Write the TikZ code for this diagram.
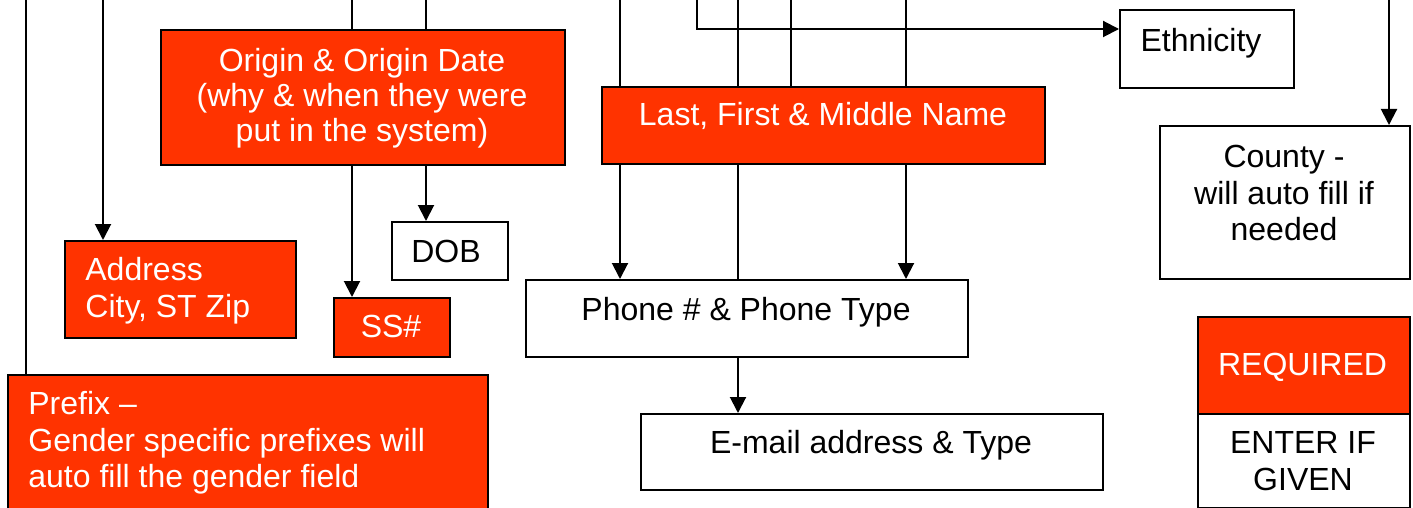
\documentclass[tikz,border=0pt]{standalone}
\usepackage{fontspec}
\setmainfont{Liberation Sans}
\usetikzlibrary{arrows.meta}
\definecolor{req}{RGB}{255,51,0}
\begin{document}
\begin{tikzpicture}[x=0.5pt,y=-0.5pt,
  box/.style={draw=black, line width=1pt, inner sep=0pt, anchor=north west},
  redbox/.style={box, fill=req},
  whitebox/.style={box, fill=white},
  txt/.style={inner sep=0pt, font=\fontsize{16}{18.3}\selectfont, align=center},
  wtxt/.style={txt, text=white},
  one/.style={text height=11.5pt, text depth=0pt},
  conn/.style={line width=1pt},
  arr/.style={conn, -{Triangle[width=8pt,length=8pt]}},
]
\useasboundingbox (0,0) rectangle (1413,508);

% free ends at the top edge
\coordinate (t26) at (26,-2);
\coordinate (t103) at (103,-2);
\coordinate (t352) at (352,-2);
\coordinate (t426) at (426,-2);
\coordinate (t620) at (620,-2);
\coordinate (t697) at (697,-2);
\coordinate (t738) at (738,-2);
\coordinate (t791) at (791,-2);
\coordinate (t906) at (906,-2);
\coordinate (t1389) at (1389,-2);

% boxes
\node[redbox, minimum width=202pt, minimum height=67.5pt] (origin) at (160,29) {};
\node[redbox, minimum width=221.5pt, minimum height=38.5pt] (last) at (601,86) {};
\node[whitebox, minimum width=87pt, minimum height=39pt] (eth) at (1119,9) {};
\node[whitebox, minimum width=125pt, minimum height=76.5pt] (county) at (1159,125) {};
\node[redbox, minimum width=115.5pt, minimum height=48.5pt] (address) at (64,240) {};
\node[whitebox, minimum width=58pt, minimum height=29pt] (dob) at (391,221) {};
\node[redbox, minimum width=58pt, minimum height=29.5pt] (ss) at (333,297) {};
\node[whitebox, minimum width=221pt, minimum height=38.5pt] (phone) at (525,279) {};
\node[whitebox, minimum width=231pt, minimum height=38pt] (email) at (640,413) {};
\node[redbox, minimum width=240pt, minimum height=70pt] (prefix) at (7,374) {};
\node[redbox, minimum width=106pt, minimum height=48.5pt] (req) at (1197,316) {};
\node[whitebox, minimum width=106pt, minimum height=47pt] (given) at (1197,413) {};

% connectors
\draw[conn] (t26) -- (t26 |- prefix.north);
\draw[arr] (t103) -- (t103 |- address.north);
\draw[conn] (t352) -- (t352 |- origin.north);
\draw[conn] (t426) -- (t426 |- origin.north);
\draw[arr] (t352 |- origin.south) -- (t352 |- ss.north);
\draw[arr] (t426 |- origin.south) -- (t426 |- dob.north);
\draw[conn] (t620) -- (t620 |- last.north);
\draw[conn] (t738) -- (t738 |- last.north);
\draw[conn] (t791) -- (t791 |- last.north);
\draw[conn] (t906) -- (t906 |- last.north);
\draw[arr] (t697) |- ([yshift=-10pt]eth.north west);
\draw[arr] (t620 |- last.south) -- (t620 |- phone.north);
\draw[conn] (t738 |- last.south) -- (t738 |- phone.north);
\draw[arr] (t906 |- last.south) -- (t906 |- phone.north);
\draw[arr] (t738 |- phone.south) -- (t738 |- email.north);
\draw[arr] (t1389) -- (t1389 |- county.north);

% texts
\node[wtxt, font=\fontsize{16}{17.6}\selectfont] (origint) at (362,98) {Origin \& Origin Date\\(why \& when they were\\put in the system)};
\node[wtxt, one] (lastt) at (823,114.5) {Last, First \& Middle Name};
\node[txt, one] (etht) at (1201,40) {Ethnicity};
\node[txt] (countyt) at (1284,193) {County -\\will auto fill if\\needed};
\node[wtxt, align=left, anchor=west] (addresst) at (85,291) {Address\\City, ST Zip};
\node[txt, one] (dobt) at (446,251) {DOB};
\node[wtxt, one] (sst) at (391,326) {SS\#};
\node[txt, one] (phonet) at (746,309) {Phone \# \& Phone Type};
\node[txt, one] (emailt) at (871,442) {E-mail address \& Type};
\node[wtxt, align=left, anchor=west] (prefixt) at (28,443) {Prefix –\\Gender specific prefixes will\\auto fill the gender field};
\node[wtxt, one] (reqt) at (1302.5,364) {REQUIRED};
\node[txt] (givent) at (1303,461) {ENTER IF\\GIVEN};
\end{tikzpicture}
\end{document}
